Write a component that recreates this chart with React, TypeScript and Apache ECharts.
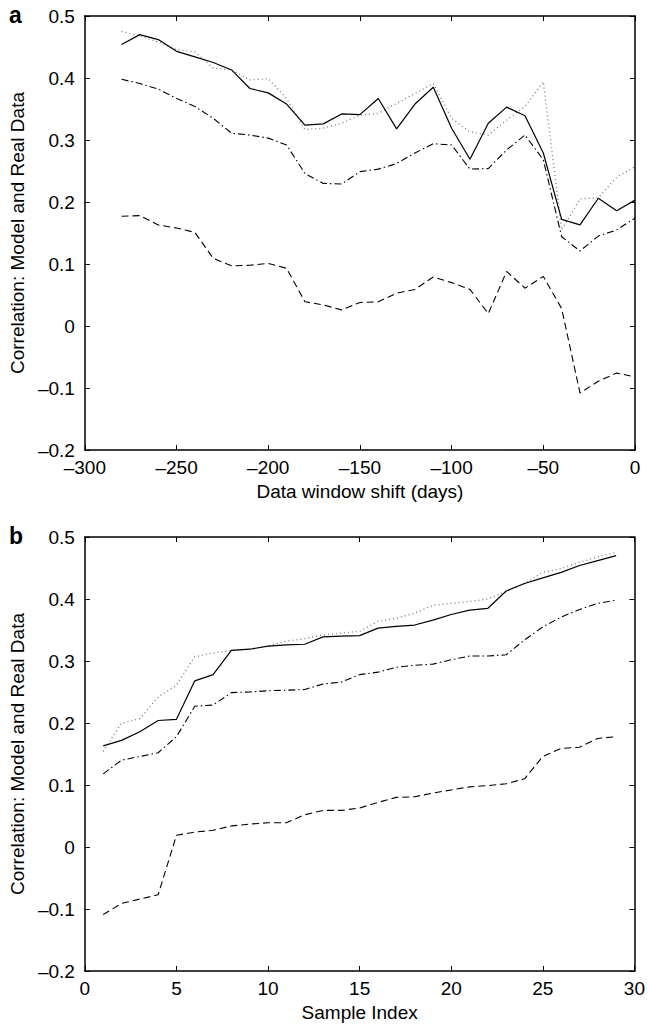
import React, { useEffect, useRef } from "react";
import * as echarts from "echarts";

// Panel a: data window shift (days)
const days = [-280, -270, -260, -250, -240, -230, -220, -210, -200, -190, -180, -170, -160, -150, -140, -130, -120, -110, -100, -90, -80, -70, -60, -50, -40, -30, -20, -10, 0];
const solidA = [0.454, 0.470, 0.462, 0.443, 0.434, 0.425, 0.413, 0.383, 0.376, 0.358, 0.324, 0.326, 0.342, 0.341, 0.367, 0.318, 0.358, 0.385, 0.319, 0.269, 0.327, 0.353, 0.339, 0.279, 0.172, 0.163, 0.206, 0.186, 0.203];
const dottedA = [0.475, 0.468, 0.458, 0.446, 0.442, 0.416, 0.413, 0.397, 0.399, 0.367, 0.317, 0.319, 0.327, 0.340, 0.343, 0.359, 0.375, 0.391, 0.335, 0.313, 0.308, 0.332, 0.354, 0.394, 0.155, 0.205, 0.207, 0.240, 0.257];
const dashDotA = [0.398, 0.391, 0.382, 0.367, 0.354, 0.335, 0.311, 0.308, 0.303, 0.292, 0.246, 0.230, 0.229, 0.249, 0.253, 0.262, 0.279, 0.294, 0.292, 0.253, 0.254, 0.284, 0.308, 0.268, 0.144, 0.121, 0.145, 0.155, 0.174];
const dashedA = [0.177, 0.178, 0.163, 0.158, 0.151, 0.109, 0.097, 0.098, 0.101, 0.093, 0.039, 0.034, 0.026, 0.038, 0.039, 0.053, 0.059, 0.079, 0.070, 0.059, 0.020, 0.088, 0.061, 0.080, 0.028, -0.108, -0.089, -0.076, -0.082];

// Panel b: sample index
const samples = [1, 2, 3, 4, 5, 6, 7, 8, 9, 10, 11, 12, 13, 14, 15, 16, 17, 18, 19, 20, 21, 22, 23, 24, 25, 26, 27, 28, 29];
const solidB = [0.163, 0.172, 0.186, 0.204, 0.206, 0.268, 0.278, 0.317, 0.319, 0.324, 0.326, 0.327, 0.339, 0.340, 0.341, 0.353, 0.356, 0.358, 0.366, 0.375, 0.382, 0.385, 0.413, 0.425, 0.434, 0.443, 0.454, 0.462, 0.470];
const dottedB = [0.154, 0.200, 0.207, 0.242, 0.261, 0.307, 0.313, 0.317, 0.319, 0.324, 0.332, 0.336, 0.342, 0.345, 0.348, 0.364, 0.369, 0.377, 0.390, 0.393, 0.396, 0.400, 0.412, 0.425, 0.443, 0.449, 0.459, 0.468, 0.475];
const dashDotB = [0.118, 0.140, 0.146, 0.152, 0.178, 0.227, 0.229, 0.249, 0.250, 0.252, 0.253, 0.254, 0.263, 0.266, 0.278, 0.282, 0.290, 0.293, 0.295, 0.302, 0.308, 0.308, 0.310, 0.334, 0.355, 0.371, 0.383, 0.393, 0.398];
const dashedB = [-0.109, -0.091, -0.084, -0.077, 0.019, 0.024, 0.027, 0.034, 0.037, 0.039, 0.039, 0.052, 0.059, 0.059, 0.063, 0.072, 0.080, 0.081, 0.087, 0.092, 0.097, 0.099, 0.102, 0.110, 0.146, 0.159, 0.161, 0.175, 0.178];

const yTicks = { min: -0.2, max: 0.5, interval: 0.1 };
const FONT = "Liberation Sans";

const fmt = (v: number) => {
  const r = Math.round(v * 1000) / 1000;
  if (r === 0) return "0";
  const s = Math.abs(r) < 1 && !Number.isInteger(r) ? Math.abs(r).toFixed(1) : String(Math.abs(r));
  return r < 0 ? "\u2013" + s : s;
};

const axisLine = { show: true, onZero: false, lineStyle: { color: "#000", width: 1.5 } };
const axisTick = { show: true, inside: true, length: 5, lineStyle: { color: "#000", width: 1 } };
const labelStyle = { color: "#000", fontFamily: FONT, fontSize: 19 };

function xAxes(grid: number, min: number, max: number, interval: number, name: string) {
  return [
    {
      type: "value", gridIndex: grid, position: "bottom", min, max, interval,
      axisLine, axisTick, splitLine: { show: false },
      axisLabel: { ...labelStyle, margin: 8, formatter: fmt, showMinLabel: true, showMaxLabel: true },
      name, nameLocation: "middle", nameGap: 32,
      nameTextStyle: { ...labelStyle },
    },
    {
      type: "value", gridIndex: grid, position: "top", min, max, interval,
      axisLine, axisTick, splitLine: { show: false }, axisLabel: { show: false },
    },
  ];
}

function yAxes(grid: number) {
  return [
    {
      type: "value", gridIndex: grid, position: "left", ...yTicks,
      axisLine, axisTick, splitLine: { show: false },
      axisLabel: { ...labelStyle, margin: 10, formatter: fmt, showMinLabel: true, showMaxLabel: true },
      name: "Correlation: Model and Real Data", nameLocation: "middle", nameGap: 54,
      nameTextStyle: { ...labelStyle },
    },
    {
      type: "value", gridIndex: grid, position: "right", ...yTicks,
      axisLine, axisTick, splitLine: { show: false }, axisLabel: { show: false },
    },
  ];
}

function seriesFor(xs: number[], lists: number[][], axis: number) {
  const styles = [
    { color: "#000", width: 1.2, type: "solid" as any },
    { color: "#777", width: 1.3, type: [1, 3] as any },
    { color: "#000", width: 1.1, type: [7, 3, 1.5, 3] as any },
    { color: "#000", width: 1.1, type: [7, 4] as any },
  ];
  return lists.map((vals, k) => ({
    type: "line",
    xAxisIndex: axis,
    yAxisIndex: axis,
    data: xs.map((x, i) => [x, vals[i]]),
    symbol: "none",
    showSymbol: false,
    lineStyle: styles[k],
    silent: true,
    z: 5 - k,
  }));
}

export default function App() {
  const ref = useRef<HTMLDivElement>(null);
  useEffect(() => {
    const chart = echarts.init(ref.current!, null, { renderer: "svg" });
    chart.setOption({
      animation: false,
      backgroundColor: "#fff",
      grid: [
        { left: 83, top: 16, width: 552, height: 434 },
        { left: 83, top: 537, width: 552, height: 434 },
      ],
      xAxis: [
        ...xAxes(0, -300, 0, 50, "Data window shift (days)"),
        ...xAxes(1, 0, 30, 5, "Sample Index"),
      ],
      yAxis: [...yAxes(0), ...yAxes(1)],
      graphic: [
        { type: "text", left: 9, top: 3, style: { text: "a", font: `bold 23px ${FONT}`, fill: "#000" } },
        { type: "text", left: 9, top: 524, style: { text: "b", font: `bold 23px ${FONT}`, fill: "#000" } },
      ],
      series: [
        ...seriesFor(days, [solidA, dottedA, dashDotA, dashedA], 0),
        ...seriesFor(samples, [solidB, dottedB, dashDotB, dashedB], 2),
      ],
    });
    return () => chart.dispose();
  }, []);
  return (
    <div
      ref={ref}
      style={{ position: "absolute", left: 0, top: 0, width: 648, height: 1024, background: "#fff" }}
    />
  );
}
